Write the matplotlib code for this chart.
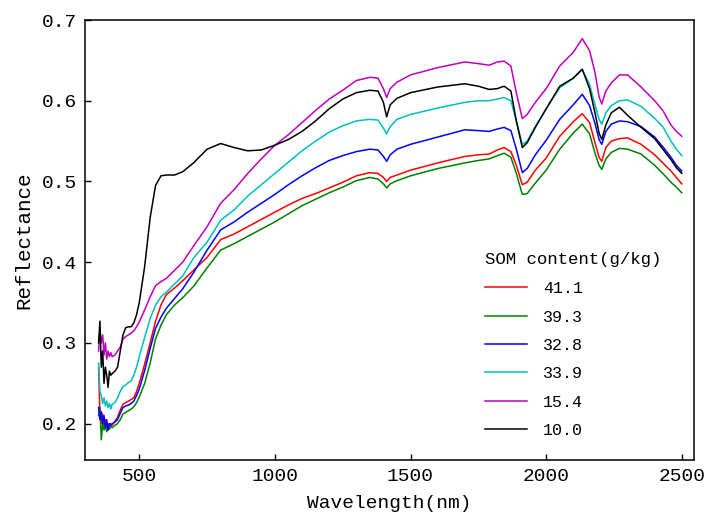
import matplotlib
matplotlib.use("Agg")
import matplotlib.pyplot as plt

plt.rcParams["font.family"] = ["Liberation Mono", "DejaVu Sans Mono"]

# wavelength grid (nm)
wavelength = [350, 355, 360, 365, 370, 375, 380, 385, 390, 395, 400, 410, 420, 430, 440,
              450, 460, 470, 480, 490, 500, 520, 540, 560, 580, 600, 630, 660, 700, 750,
              800, 850, 900, 950, 1000, 1050, 1100, 1150, 1200, 1250, 1300, 1350, 1380, 1400,
              1412, 1425, 1450, 1500, 1600, 1700, 1750, 1790, 1820, 1845, 1870, 1890, 1912,
              1930, 1960, 2000, 2050, 2100, 2133, 2160, 2180, 2195, 2205, 2220, 2240, 2270,
              2300, 2350, 2400, 2430, 2460, 2480, 2500]

# reflectance, one list per soil sample
som_41_1 = [0.270, 0.210, 0.200, 0.212, 0.198, 0.205, 0.192, 0.200, 0.195, 0.200, 0.198, 0.203, 0.208, 0.217, 0.224,
            0.226, 0.228, 0.230, 0.232, 0.240, 0.250, 0.274, 0.300, 0.327, 0.347, 0.360, 0.368, 0.377, 0.390, 0.406,
            0.428, 0.435, 0.444, 0.453, 0.462, 0.471, 0.479, 0.485, 0.492, 0.499, 0.507, 0.511, 0.510, 0.505,
            0.500, 0.505, 0.508, 0.514, 0.523, 0.531, 0.533, 0.534, 0.539, 0.542, 0.537, 0.520, 0.496,
            0.499, 0.514, 0.529, 0.556, 0.574, 0.584, 0.573, 0.548, 0.530, 0.525, 0.542, 0.550, 0.553,
            0.554, 0.546, 0.533, 0.523, 0.513, 0.505, 0.497]
som_39_3 = [0.210, 0.220, 0.180, 0.200, 0.192, 0.198, 0.190, 0.196, 0.193, 0.197, 0.195, 0.198, 0.200, 0.205, 0.212,
            0.214, 0.216, 0.218, 0.221, 0.226, 0.233, 0.250, 0.275, 0.305, 0.322, 0.335, 0.347, 0.356, 0.370, 0.393,
            0.415, 0.423, 0.432, 0.441, 0.450, 0.460, 0.470, 0.478, 0.486, 0.493, 0.501, 0.505, 0.503, 0.497,
            0.492, 0.497, 0.501, 0.507, 0.516, 0.523, 0.526, 0.528, 0.532, 0.535, 0.530, 0.510, 0.484,
            0.485, 0.498, 0.514, 0.540, 0.560, 0.571, 0.559, 0.535, 0.520, 0.515, 0.528, 0.536, 0.541,
            0.540, 0.534, 0.520, 0.510, 0.499, 0.493, 0.486]
som_32_8 = [0.220, 0.205, 0.215, 0.200, 0.210, 0.195, 0.205, 0.192, 0.200, 0.198, 0.200, 0.202, 0.205, 0.213, 0.220,
            0.222, 0.223, 0.225, 0.228, 0.235, 0.243, 0.266, 0.293, 0.318, 0.332, 0.343, 0.355, 0.367, 0.387, 0.415,
            0.440, 0.450, 0.462, 0.473, 0.484, 0.496, 0.507, 0.517, 0.526, 0.532, 0.537, 0.540, 0.539, 0.531,
            0.525, 0.533, 0.540, 0.546, 0.555, 0.564, 0.563, 0.562, 0.565, 0.567, 0.563, 0.540, 0.511,
            0.516, 0.533, 0.551, 0.577, 0.595, 0.608, 0.594, 0.572, 0.552, 0.546, 0.562, 0.571, 0.575,
            0.574, 0.568, 0.555, 0.543, 0.530, 0.520, 0.513]
som_33_9 = [0.275, 0.240, 0.235, 0.225, 0.232, 0.222, 0.228, 0.220, 0.225, 0.218, 0.224, 0.226, 0.232, 0.240, 0.246,
            0.248, 0.251, 0.253, 0.260, 0.270, 0.283, 0.307, 0.330, 0.347, 0.357, 0.363, 0.373, 0.383, 0.405, 0.425,
            0.452, 0.465, 0.482, 0.496, 0.510, 0.524, 0.538, 0.550, 0.561, 0.569, 0.575, 0.577, 0.576, 0.566,
            0.559, 0.568, 0.577, 0.583, 0.591, 0.598, 0.600, 0.600, 0.602, 0.604, 0.600, 0.575, 0.546,
            0.550, 0.568, 0.590, 0.616, 0.628, 0.639, 0.620, 0.595, 0.577, 0.571, 0.585, 0.594, 0.600,
            0.601, 0.593, 0.578, 0.568, 0.550, 0.540, 0.532]
som_15_4 = [0.290, 0.315, 0.300, 0.310, 0.285, 0.300, 0.280, 0.290, 0.283, 0.288, 0.283, 0.285, 0.290, 0.295, 0.305,
            0.308, 0.310, 0.312, 0.315, 0.320, 0.326, 0.341, 0.357, 0.371, 0.376, 0.380, 0.390, 0.400, 0.420, 0.444,
            0.473, 0.490, 0.510, 0.528, 0.545, 0.558, 0.573, 0.588, 0.602, 0.613, 0.625, 0.629, 0.628, 0.615,
            0.604, 0.615, 0.623, 0.632, 0.641, 0.648, 0.646, 0.644, 0.648, 0.649, 0.643, 0.610, 0.578,
            0.583, 0.598, 0.615, 0.643, 0.660, 0.677, 0.662, 0.635, 0.605, 0.596, 0.612, 0.622, 0.632,
            0.632, 0.617, 0.600, 0.588, 0.570, 0.562, 0.556]
som_10_0 = [0.300, 0.327, 0.270, 0.290, 0.250, 0.270, 0.260, 0.245, 0.265, 0.260, 0.262, 0.265, 0.270, 0.290, 0.310,
            0.319, 0.320, 0.320, 0.325, 0.335, 0.350, 0.395, 0.455, 0.495, 0.507, 0.508, 0.508, 0.512, 0.523, 0.540,
            0.547, 0.542, 0.538, 0.539, 0.545, 0.552, 0.562, 0.575, 0.590, 0.602, 0.610, 0.613, 0.612, 0.598,
            0.580, 0.595, 0.603, 0.610, 0.617, 0.621, 0.618, 0.614, 0.615, 0.618, 0.612, 0.575, 0.542,
            0.548, 0.567, 0.590, 0.618, 0.628, 0.639, 0.615, 0.585, 0.560, 0.552, 0.570, 0.585, 0.592,
            0.582, 0.567, 0.553, 0.540, 0.527, 0.517, 0.510]

series = [som_41_1, som_39_3, som_32_8, som_33_9, som_15_4, som_10_0]
labels = ["41.1", "39.3", "32.8", "33.9", "15.4", "10.0"]
colors = ["r", "g", "b", "c", "m", "k"]

fig = plt.figure(figsize=(7.05, 5.13), dpi=100)
ax = fig.add_axes([0.1206, 0.1033, 0.8638, 0.8577])

for vals, lab, col in zip(series, labels, colors):
    ax.plot(wavelength, vals, color=col, lw=1.1, label=lab)

ax.set_xlim(300, 2545)
ax.set_ylim(0.155, 0.70)
ax.set_xticks([500, 1000, 1500, 2000, 2500])
ax.set_yticks([0.2, 0.3, 0.4, 0.5, 0.6, 0.7])
ax.tick_params(direction="in", length=4.5, width=1, labelsize=14, pad=6)
for sp in ax.spines.values():
    sp.set_linewidth(1.1)

ax.set_xlabel("Wavelength(nm)", fontsize=14, labelpad=7)
ax.set_ylabel("Reflectance", fontsize=15, labelpad=6)

leg = ax.legend(title="SOM content(g/kg)", frameon=False, fontsize=12, title_fontsize=12.5,
                loc="upper left", bbox_to_anchor=(0.632, 0.506), handlelength=2.5,
                handletextpad=1.0, labelspacing=0.80, alignment="left")
leg._legend_box.sep = 10

fig.savefig("out.png", dpi=100)
